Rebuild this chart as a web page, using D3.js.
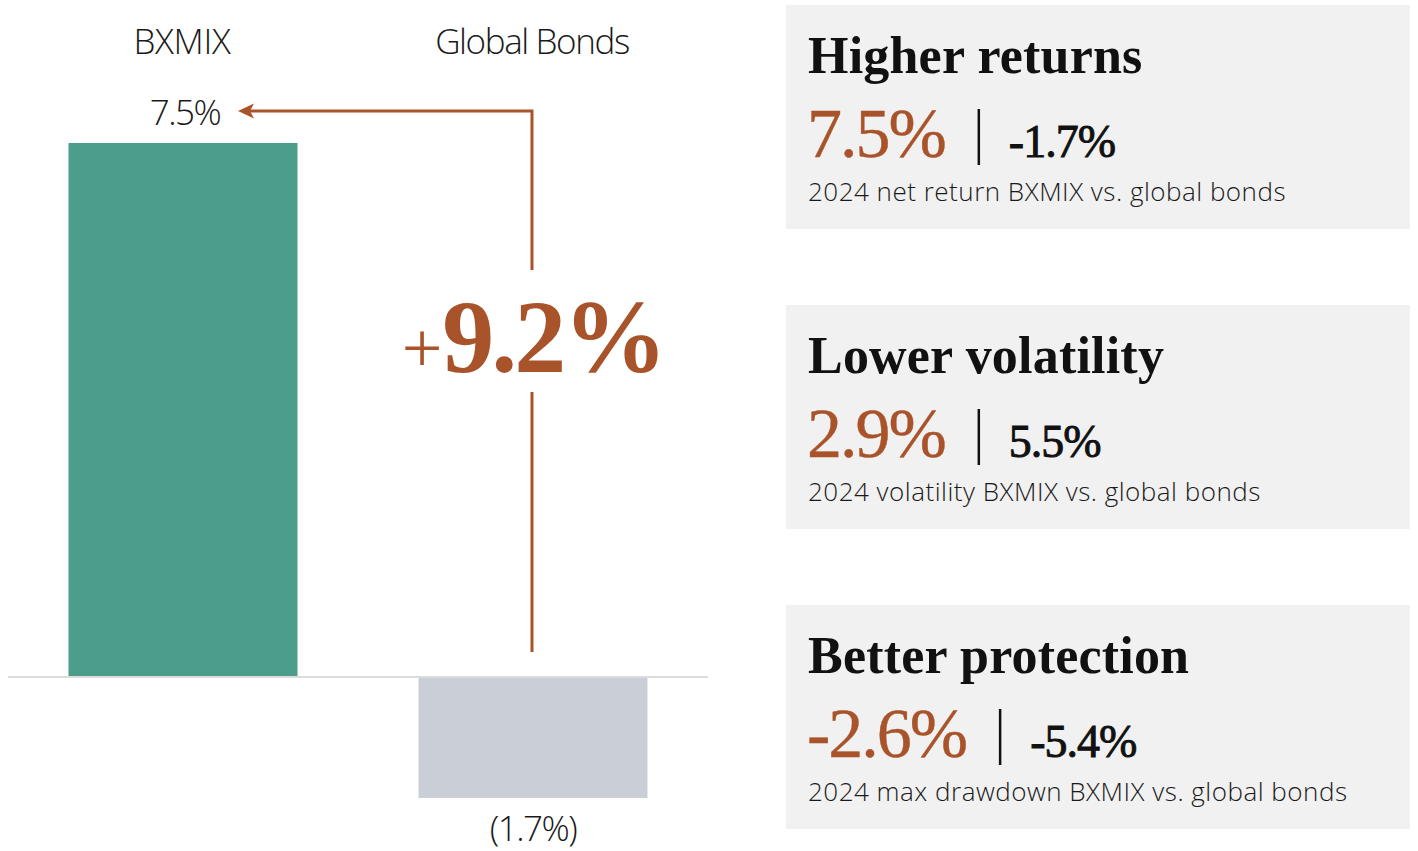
<!DOCTYPE html>
<html><head><meta charset="utf-8">
<script src="https://cdn.jsdelivr.net/npm/d3@7"></script>
<style>
html,body{margin:0;padding:0;background:#fff;}
svg{display:block;}
</style></head>
<body>
<svg id="chart" width="1418" height="851"></svg>
<script>
const categories = ["BXMIX", "Global Bonds"];
const values = [7.5, -1.7];
const valueLabels = ["7.5%", "(1.7%)"];
const differenceLabel = "9.2%";
const panelTitles = ["Higher returns", "Lower volatility", "Better protection"];
const bxmixStats = ["7.5%", "2.9%", "-2.6%"];
const bondStats = ["-1.7%", "5.5%", "-5.4%"];
const statCaptions = [
  "2024 net return BXMIX vs. global bonds",
  "2024 volatility BXMIX vs. global bonds",
  "2024 max drawdown BXMIX vs. global bonds"
];

const ORANGE = "#A9532A";
const SANS = "'Open Sans', 'Noto Sans', sans-serif";
const SERIF = "'Liberation Serif', 'DejaVu Serif', serif";

const svg = d3.select("#chart");

const x = d3.scaleBand().domain(categories).range([8, 708]).paddingInner(0.3457).paddingOuter(0.1729);
const y = d3.scaleLinear().domain([0, 7.5]).range([677, 143]);
const colors = d3.scaleOrdinal().domain(categories).range(["#4C9E8A", "#C9CED7"]);

// bars
svg.selectAll("rect.bar").data(categories).join("rect")
  .attr("class", "bar")
  .attr("x", d => x(d))
  .attr("width", x.bandwidth())
  .attr("y", (d, i) => y(Math.max(0, values[i])))
  .attr("height", (d, i) => Math.abs(y(values[i]) - y(0)))
  .attr("fill", d => colors(d));

// baseline
svg.append("line").attr("x1", 8).attr("x2", 708).attr("y1", y(0)).attr("y2", y(0))
  .attr("stroke", "#DCDCDC").attr("stroke-width", 2);

// category labels
svg.selectAll("text.cat").data(categories).join("text")
  .attr("class", "cat")
  .attr("x", d => x(d) + x.bandwidth() / 2 - 1)
  .attr("y", 54)
  .attr("text-anchor", "middle")
  .attr("font-family", SANS).attr("font-weight", 300)
  .attr("font-size", 35).attr("letter-spacing", d => d.length > 6 ? -1.4 : -0.3)
  .attr("fill", "#1a1a1a")
  .text(d => d);

// value labels
svg.selectAll("text.val").data(categories).join("text")
  .attr("class", "val")
  .attr("x", (d, i) => x(d) + x.bandwidth() / 2 + (values[i] > 0 ? 2 : 0))
  .attr("y", (d, i) => values[i] > 0 ? y(values[i]) - 18 : y(values[i]) + 43)
  .attr("text-anchor", "middle")
  .attr("font-family", SANS).attr("font-weight", 300)
  .attr("font-size", 35).attr("letter-spacing", -1.5)
  .attr("fill", "#1a1a1a")
  .text((d, i) => valueLabels[i]);

// arrow
const cx2 = x(categories[1]) + x.bandwidth() / 2 - 1;
const arrowY = y(values[0]) - 32;
const arrowTipX = x(categories[0]) + x.bandwidth() / 2 + 55;
svg.append("path")
  .attr("d", `M${cx2},270 L${cx2},${arrowY} L${arrowTipX + 10},${arrowY}`)
  .attr("fill", "none").attr("stroke", ORANGE).attr("stroke-width", 3);
svg.append("path")
  .attr("d", `M${arrowTipX},${arrowY} L${arrowTipX + 16},${arrowY - 7.5} L${arrowTipX + 12},${arrowY} L${arrowTipX + 16},${arrowY + 7.5} Z`)
  .attr("fill", ORANGE);
svg.append("line").attr("x1", cx2).attr("x2", cx2).attr("y1", 392).attr("y2", y(0) - 25)
  .attr("stroke", ORANGE).attr("stroke-width", 3);

// difference text
const dt = svg.append("text").attr("x", cx2 + 1).attr("y", 372).attr("text-anchor", "middle")
  .attr("font-family", SERIF).attr("fill", ORANGE);
dt.append("tspan").attr("font-size", 72).attr("font-weight", 400).text("+");
dt.append("tspan").attr("font-size", 104).attr("font-weight", 700).attr("letter-spacing", -3).text(differenceLabel);

// panels
const panelTop = [5, 305, 605];
const panels = svg.selectAll("g.panel").data(panelTitles).join("g")
  .attr("class", "panel")
  .attr("transform", (d, i) => `translate(786,${panelTop[i]})`);
panels.append("rect").attr("width", 624).attr("height", 224).attr("fill", "#F1F1F1");
panels.append("text").attr("x", 22).attr("y", 68)
  .attr("font-family", SERIF).attr("font-weight", 700).attr("font-size", 52)
  .attr("letter-spacing", 0.2)
  .attr("fill", "#111").text(d => d);
panels.each(function(d, i) {
  const g = d3.select(this);
  const big = g.append("text").attr("x", 21).attr("y", 152)
    .attr("font-family", SERIF).attr("font-size", 70).attr("fill", ORANGE)
    .attr("stroke", ORANGE).attr("stroke-width", 0.4)
    .attr("letter-spacing", -2).text(bxmixStats[i]);
  const w = big.node().getComputedTextLength();
  const sepX = 21 + w + 34;
  g.append("line").attr("x1", sepX).attr("x2", sepX).attr("y1", 104).attr("y2", 160)
    .attr("stroke", "#111").attr("stroke-width", 2.5);
  g.append("text").attr("x", sepX + 30).attr("y", 152)
    .attr("font-family", SERIF).attr("font-weight", 400).attr("font-size", 46).attr("fill", "#111")
    .attr("stroke", "#111").attr("stroke-width", 0.9)
    .attr("letter-spacing", -1).text(bondStats[i]);
  g.append("text").attr("x", 22).attr("y", 196)
    .attr("font-family", SANS).attr("font-weight", 300).attr("font-size", 26)
    .attr("letter-spacing", 0.5)
    .attr("fill", "#1a1a1a").text(statCaptions[i]);
});
</script>
</body></html>
